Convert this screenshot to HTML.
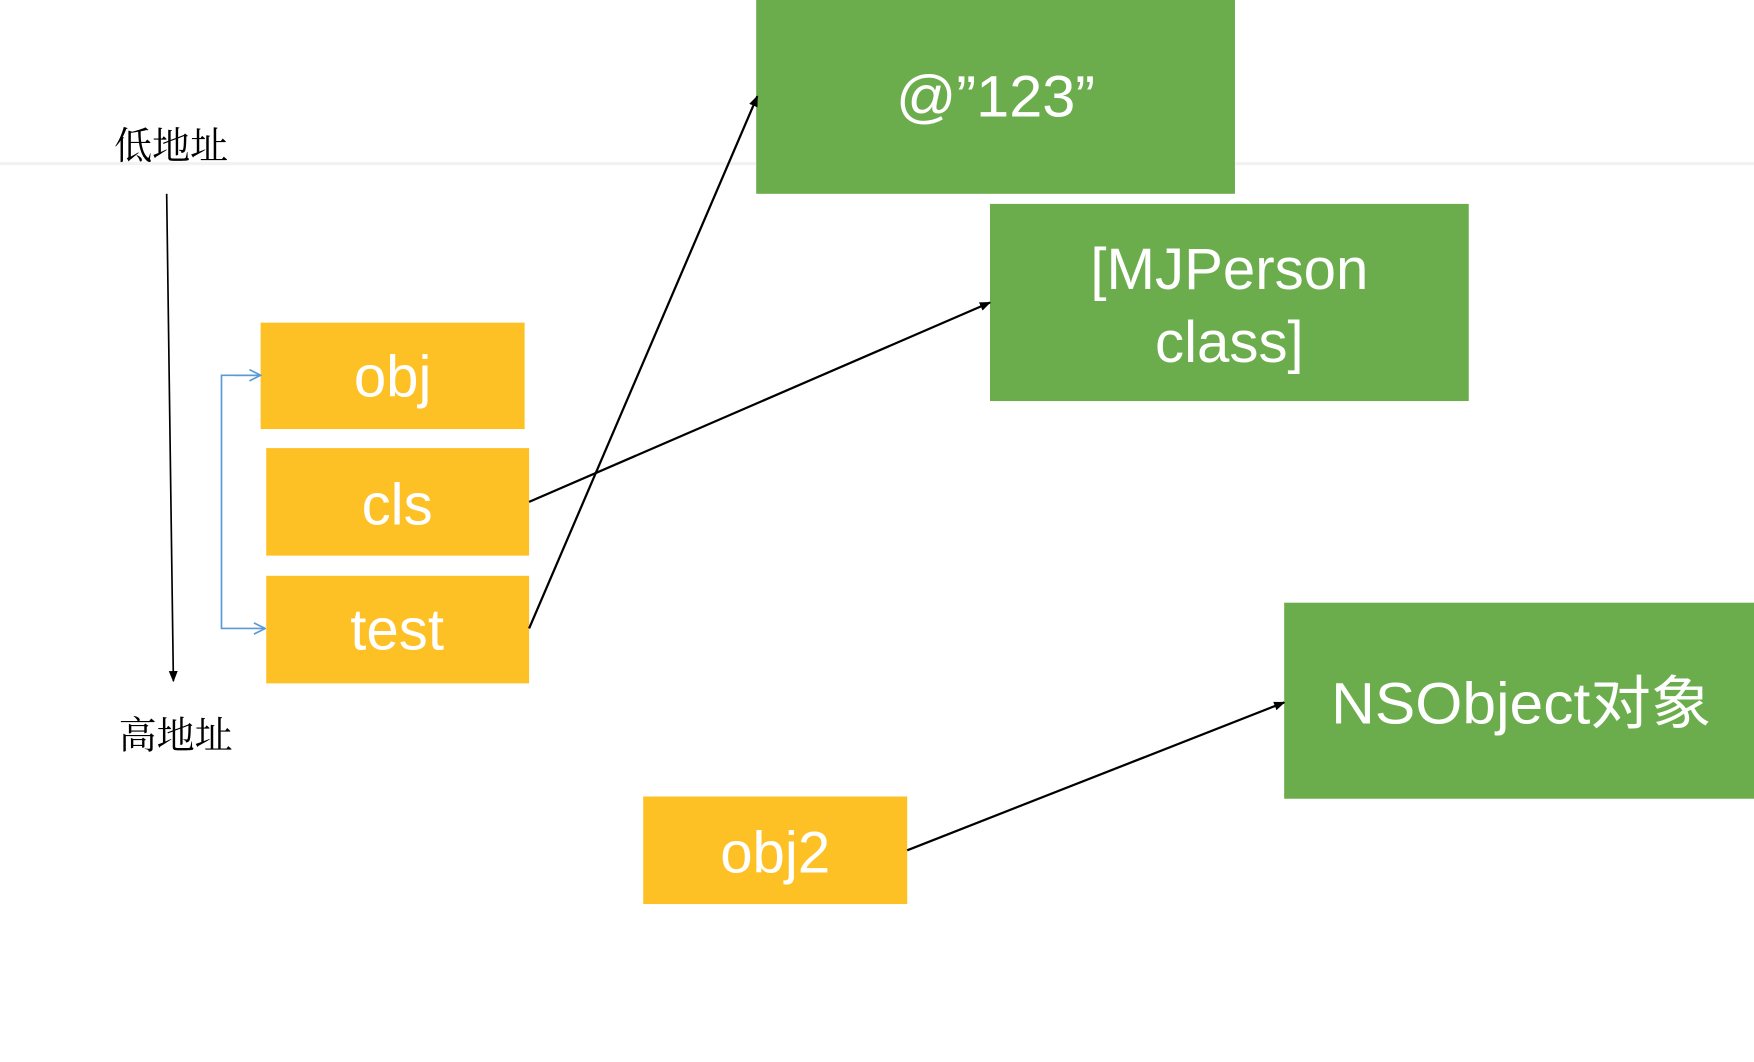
<!DOCTYPE html>
<html><head><meta charset="utf-8"><style>
html,body{margin:0;padding:0;background:#fff;width:1754px;height:1062px;overflow:hidden}
svg{display:block}
</style></head><body>
<svg width="1754" height="1062" viewBox="0 0 1568 948" preserveAspectRatio="none" xmlns="http://www.w3.org/2000/svg">
<defs>
<marker id="ab" markerWidth="10" markerHeight="10" refX="9" refY="5" orient="auto" markerUnits="userSpaceOnUse"><path d="M0,1 L10,5 L0,9 z" fill="#000"/></marker>
<marker id="bl" markerWidth="12" markerHeight="12" refX="11" refY="6" orient="auto" markerUnits="userSpaceOnUse"><path d="M1,1 L11,6 L1,11" fill="none" stroke="#5b9bd5" stroke-width="1.5"/></marker>
</defs>
<line x1="0" y1="146" x2="1568" y2="146" stroke="#f2f2f2" stroke-width="3"/>
<rect x="676" y="0" width="428" height="173" fill="#6bad4c"/>
<rect x="885" y="182" width="428" height="176" fill="#6bad4c"/>
<rect x="1148" y="538" width="420" height="175" fill="#6bad4c"/>
<rect x="233" y="288" width="236" height="95" fill="#fec125"/>
<rect x="238" y="400" width="235" height="96" fill="#fec125"/>
<rect x="238" y="514" width="235" height="96" fill="#fec125"/>
<rect x="575" y="711" width="236" height="96" fill="#fec125"/>
<g font-family="Liberation Sans, Noto Sans CJK SC, sans-serif" fill="#fff" font-size="52" text-anchor="middle">
<text x="890" y="104" textLength="178" lengthAdjust="spacingAndGlyphs">@”123”</text>
<text x="1099" y="258">[MJPerson</text>
<text x="1099" y="323">class]</text>
<text x="1360" y="646" textLength="340" lengthAdjust="spacingAndGlyphs">NSObject对象</text>
<text x="351" y="354">obj</text>
<text x="355" y="468">cls</text>
<text x="355" y="580">test</text>
<text x="693" y="779">obj2</text>
</g>
<g font-family="Noto Serif CJK SC, serif" font-size="34" fill="#000">
<text x="102" y="142">低地址</text>
<text x="106" y="668">高地址</text>
</g>
<line x1="149" y1="173" x2="155" y2="608" stroke="#000" stroke-width="1.5" marker-end="url(#ab)"/>
<polyline points="233,335 198,335 198,561 237,561" fill="none" stroke="#5b9bd5" stroke-width="1.5" marker-end="url(#bl)"/>
<line x1="210" y1="335" x2="233" y2="335" stroke="#5b9bd5" stroke-width="1.5" marker-end="url(#bl)"/>
<line x1="473" y1="561" x2="677" y2="86" stroke="#000" stroke-width="2" marker-end="url(#ab)"/>
<line x1="473" y1="448" x2="885" y2="270" stroke="#000" stroke-width="2" marker-end="url(#ab)"/>
<line x1="811" y1="759" x2="1148" y2="627" stroke="#000" stroke-width="2" marker-end="url(#ab)"/>
</svg>
</body></html>
